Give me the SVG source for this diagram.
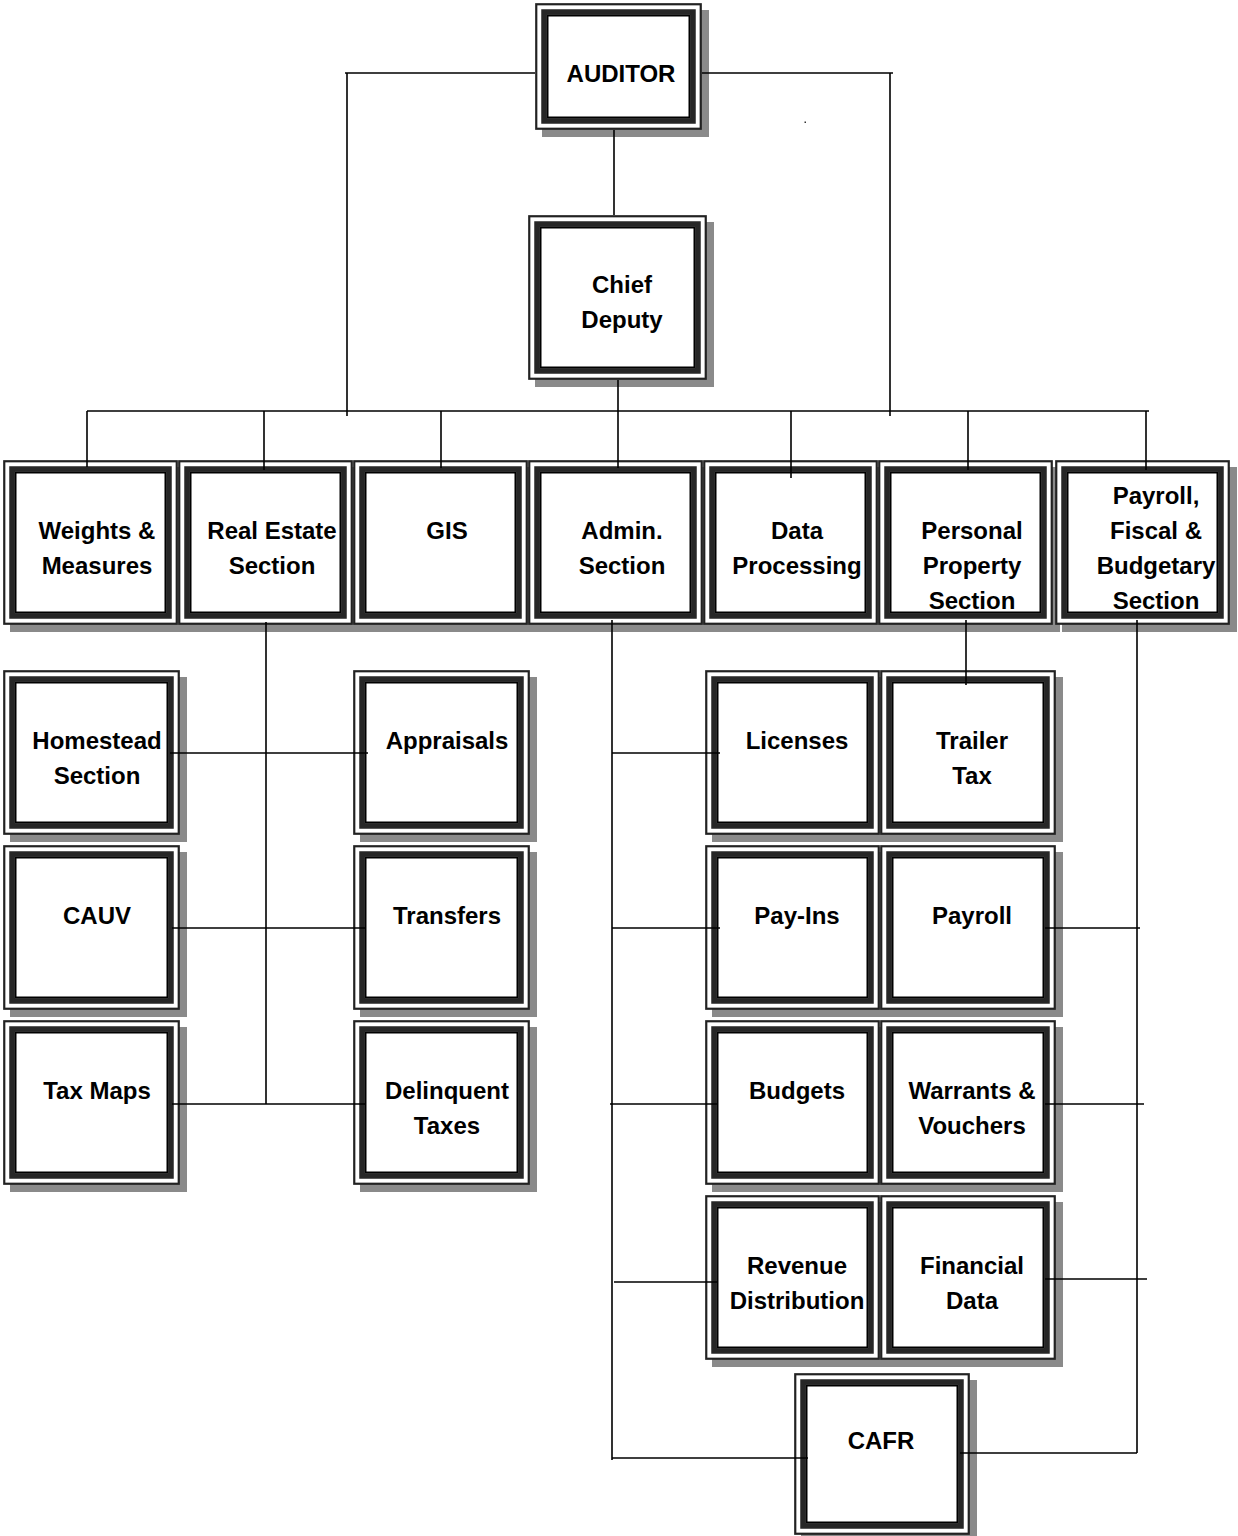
<svg xmlns="http://www.w3.org/2000/svg" width="1238" height="1536" viewBox="0 0 1238 1536">
<style>
.sh{fill:#8a8a8a}
.o{fill:#fff;stroke:#222;stroke-width:2.2}
.b{fill:none;stroke:#262626;stroke-width:5.5}
.i{fill:none;stroke:#000;stroke-width:2}
.t{font-family:"Liberation Sans",Arial,sans-serif;font-weight:bold;font-size:24px;text-anchor:middle;fill:#000}
.c{fill:none;stroke:#000;stroke-width:1.6}
</style>
<rect width="1238" height="1536" fill="#fff"/>

<g id="auditor"><rect class="sh" x="542" y="10" width="167" height="127"/><rect class="o" x="536.25" y="4.25" width="164.5" height="124.5"/><rect class="b" x="544" y="12" width="149" height="109"/><rect class="i" x="547.5" y="15.5" width="142" height="102"/><text class="t" x="621" y="82">AUDITOR</text></g>

<g id="chief-deputy"><rect class="sh" x="535" y="222" width="179" height="165"/><rect class="o" x="529.25" y="216.25" width="176.5" height="162.5"/><rect class="b" x="537" y="224" width="161" height="147"/><rect class="i" x="540.5" y="227.5" width="154" height="140"/><text class="t" x="622" y="292.5">Chief</text><text class="t" x="622" y="327.5">Deputy</text></g>

<g id="weights"><rect class="sh" x="10" y="467" width="175" height="165"/><rect class="o" x="4.25" y="461.25" width="172.5" height="162.5"/><rect class="b" x="12" y="469" width="157" height="147"/><rect class="i" x="15.5" y="472.5" width="150" height="140"/><text class="t" x="97" y="538.5">Weights &amp;</text><text class="t" x="97" y="573.5">Measures</text></g>
<g id="real-estate"><rect class="sh" x="185" y="467" width="175" height="165"/><rect class="o" x="179.25" y="461.25" width="172.5" height="162.5"/><rect class="b" x="187" y="469" width="157" height="147"/><rect class="i" x="190.5" y="472.5" width="150" height="140"/><text class="t" x="272" y="538.5">Real Estate</text><text class="t" x="272" y="573.5">Section</text></g>
<g id="gis"><rect class="sh" x="360" y="467" width="175" height="165"/><rect class="o" x="354.25" y="461.25" width="172.5" height="162.5"/><rect class="b" x="362" y="469" width="157" height="147"/><rect class="i" x="365.5" y="472.5" width="150" height="140"/><text class="t" x="447" y="538.5">GIS</text></g>
<g id="admin"><rect class="sh" x="535" y="467" width="175" height="165"/><rect class="o" x="529.25" y="461.25" width="172.5" height="162.5"/><rect class="b" x="537" y="469" width="157" height="147"/><rect class="i" x="540.5" y="472.5" width="150" height="140"/><text class="t" x="622" y="538.5">Admin.</text><text class="t" x="622" y="573.5">Section</text></g>
<g id="data-processing"><rect class="sh" x="710" y="467" width="175" height="165"/><rect class="o" x="704.25" y="461.25" width="172.5" height="162.5"/><rect class="b" x="712" y="469" width="157" height="147"/><rect class="i" x="715.5" y="472.5" width="150" height="140"/><text class="t" x="797" y="538.5">Data</text><text class="t" x="797" y="573.5">Processing</text></g>
<g id="personal-property"><rect class="sh" x="885" y="467" width="175" height="165"/><rect class="o" x="879.25" y="461.25" width="172.5" height="162.5"/><rect class="b" x="887" y="469" width="157" height="147"/><rect class="i" x="890.5" y="472.5" width="150" height="140"/><text class="t" x="972" y="538.5">Personal</text><text class="t" x="972" y="573.5">Property</text><text class="t" x="972" y="608.5">Section</text></g>
<g id="payroll-fiscal"><rect class="sh" x="1062" y="467" width="175" height="165"/><rect class="o" x="1056.25" y="461.25" width="172.5" height="162.5"/><rect class="b" x="1064" y="469" width="157" height="147"/><rect class="i" x="1067.5" y="472.5" width="150" height="140"/><text class="t" x="1156" y="503.5">Payroll,</text><text class="t" x="1156" y="538.5">Fiscal &amp;</text><text class="t" x="1156" y="573.5">Budgetary</text><text class="t" x="1156" y="608.5">Section</text></g>

<g id="homestead"><rect class="sh" x="10" y="677" width="177" height="165"/><rect class="o" x="4.25" y="671.25" width="174.5" height="162.5"/><rect class="b" x="12" y="679" width="159" height="147"/><rect class="i" x="15.5" y="682.5" width="152" height="140"/><text class="t" x="97" y="748.5">Homestead</text><text class="t" x="97" y="783.5">Section</text></g>
<g id="cauv"><rect class="sh" x="10" y="852" width="177" height="165"/><rect class="o" x="4.25" y="846.25" width="174.5" height="162.5"/><rect class="b" x="12" y="854" width="159" height="147"/><rect class="i" x="15.5" y="857.5" width="152" height="140"/><text class="t" x="97" y="923.5">CAUV</text></g>
<g id="tax-maps"><rect class="sh" x="10" y="1027" width="177" height="165"/><rect class="o" x="4.25" y="1021.25" width="174.5" height="162.5"/><rect class="b" x="12" y="1029" width="159" height="147"/><rect class="i" x="15.5" y="1032.5" width="152" height="140"/><text class="t" x="97" y="1098.5">Tax Maps</text></g>

<g id="appraisals"><rect class="sh" x="360" y="677" width="177" height="165"/><rect class="o" x="354.25" y="671.25" width="174.5" height="162.5"/><rect class="b" x="362" y="679" width="159" height="147"/><rect class="i" x="365.5" y="682.5" width="152" height="140"/><text class="t" x="447" y="748.5">Appraisals</text></g>
<g id="transfers"><rect class="sh" x="360" y="852" width="177" height="165"/><rect class="o" x="354.25" y="846.25" width="174.5" height="162.5"/><rect class="b" x="362" y="854" width="159" height="147"/><rect class="i" x="365.5" y="857.5" width="152" height="140"/><text class="t" x="447" y="923.5">Transfers</text></g>
<g id="delinquent-taxes"><rect class="sh" x="360" y="1027" width="177" height="165"/><rect class="o" x="354.25" y="1021.25" width="174.5" height="162.5"/><rect class="b" x="362" y="1029" width="159" height="147"/><rect class="i" x="365.5" y="1032.5" width="152" height="140"/><text class="t" x="447" y="1098.5">Delinquent</text><text class="t" x="447" y="1133.5">Taxes</text></g>

<g id="licenses"><rect class="sh" x="712" y="677" width="175" height="165"/><rect class="o" x="706.25" y="671.25" width="172.5" height="162.5"/><rect class="b" x="714" y="679" width="157" height="147"/><rect class="i" x="717.5" y="682.5" width="150" height="140"/><text class="t" x="797" y="748.5">Licenses</text></g>
<g id="trailer-tax"><rect class="sh" x="887" y="677" width="176" height="165"/><rect class="o" x="881.25" y="671.25" width="173.5" height="162.5"/><rect class="b" x="889" y="679" width="158" height="147"/><rect class="i" x="892.5" y="682.5" width="151" height="140"/><text class="t" x="972" y="748.5">Trailer</text><text class="t" x="972" y="783.5">Tax</text></g>
<g id="pay-ins"><rect class="sh" x="712" y="852" width="175" height="165"/><rect class="o" x="706.25" y="846.25" width="172.5" height="162.5"/><rect class="b" x="714" y="854" width="157" height="147"/><rect class="i" x="717.5" y="857.5" width="150" height="140"/><text class="t" x="797" y="923.5">Pay-Ins</text></g>
<g id="payroll"><rect class="sh" x="887" y="852" width="176" height="165"/><rect class="o" x="881.25" y="846.25" width="173.5" height="162.5"/><rect class="b" x="889" y="854" width="158" height="147"/><rect class="i" x="892.5" y="857.5" width="151" height="140"/><text class="t" x="972" y="923.5">Payroll</text></g>
<g id="budgets"><rect class="sh" x="712" y="1027" width="175" height="165"/><rect class="o" x="706.25" y="1021.25" width="172.5" height="162.5"/><rect class="b" x="714" y="1029" width="157" height="147"/><rect class="i" x="717.5" y="1032.5" width="150" height="140"/><text class="t" x="797" y="1098.5">Budgets</text></g>
<g id="warrants-vouchers"><rect class="sh" x="887" y="1027" width="176" height="165"/><rect class="o" x="881.25" y="1021.25" width="173.5" height="162.5"/><rect class="b" x="889" y="1029" width="158" height="147"/><rect class="i" x="892.5" y="1032.5" width="151" height="140"/><text class="t" x="972" y="1098.5">Warrants &amp;</text><text class="t" x="972" y="1133.5">Vouchers</text></g>
<g id="revenue-distribution"><rect class="sh" x="712" y="1202" width="175" height="165"/><rect class="o" x="706.25" y="1196.25" width="172.5" height="162.5"/><rect class="b" x="714" y="1204" width="157" height="147"/><rect class="i" x="717.5" y="1207.5" width="150" height="140"/><text class="t" x="797" y="1273.5">Revenue</text><text class="t" x="797" y="1308.5">Distribution</text></g>
<g id="financial-data"><rect class="sh" x="887" y="1202" width="176" height="165"/><rect class="o" x="881.25" y="1196.25" width="173.5" height="162.5"/><rect class="b" x="889" y="1204" width="158" height="147"/><rect class="i" x="892.5" y="1207.5" width="151" height="140"/><text class="t" x="972" y="1273.5">Financial</text><text class="t" x="972" y="1308.5">Data</text></g>
<g id="cafr"><rect class="sh" x="801" y="1380" width="176" height="162"/><rect class="o" x="795.25" y="1374.25" width="173.5" height="159.5"/><rect class="b" x="803" y="1382" width="158" height="144"/><rect class="i" x="806.5" y="1385.5" width="151" height="137"/><text class="t" x="881" y="1448.5">CAFR</text></g>

<g id="connectors" class="c">
<path d="M345,73 H535 M702,73 H893 M347,73 V416 M890,73 V416"/>
<path d="M614,130 V215 M618,380 V468"/>
<path d="M87,411 H1149 M87,411 V467 M264,411 V470 M441,411 V468 M791,411 V478 M968,411 V470 M1146,411 V470"/>
<path d="M266,622 V1104 M170,753 H368 M172,928 H365 M172,1104 H365"/>
<path d="M612,620 V1460 M612,753 H720 M612,928 H720 M610,1104 H718 M614,1282 H718 M612,1458 H808"/>
<path d="M966,620 V685"/>
<path d="M1137,620 V1453 M1045,928 H1140 M1045,1104 H1144 M1045,1279 H1147 M960,1453 H1137"/>
</g>
<rect x="804.5" y="121.5" width="1.5" height="1.5" fill="#333"/>
</svg>
